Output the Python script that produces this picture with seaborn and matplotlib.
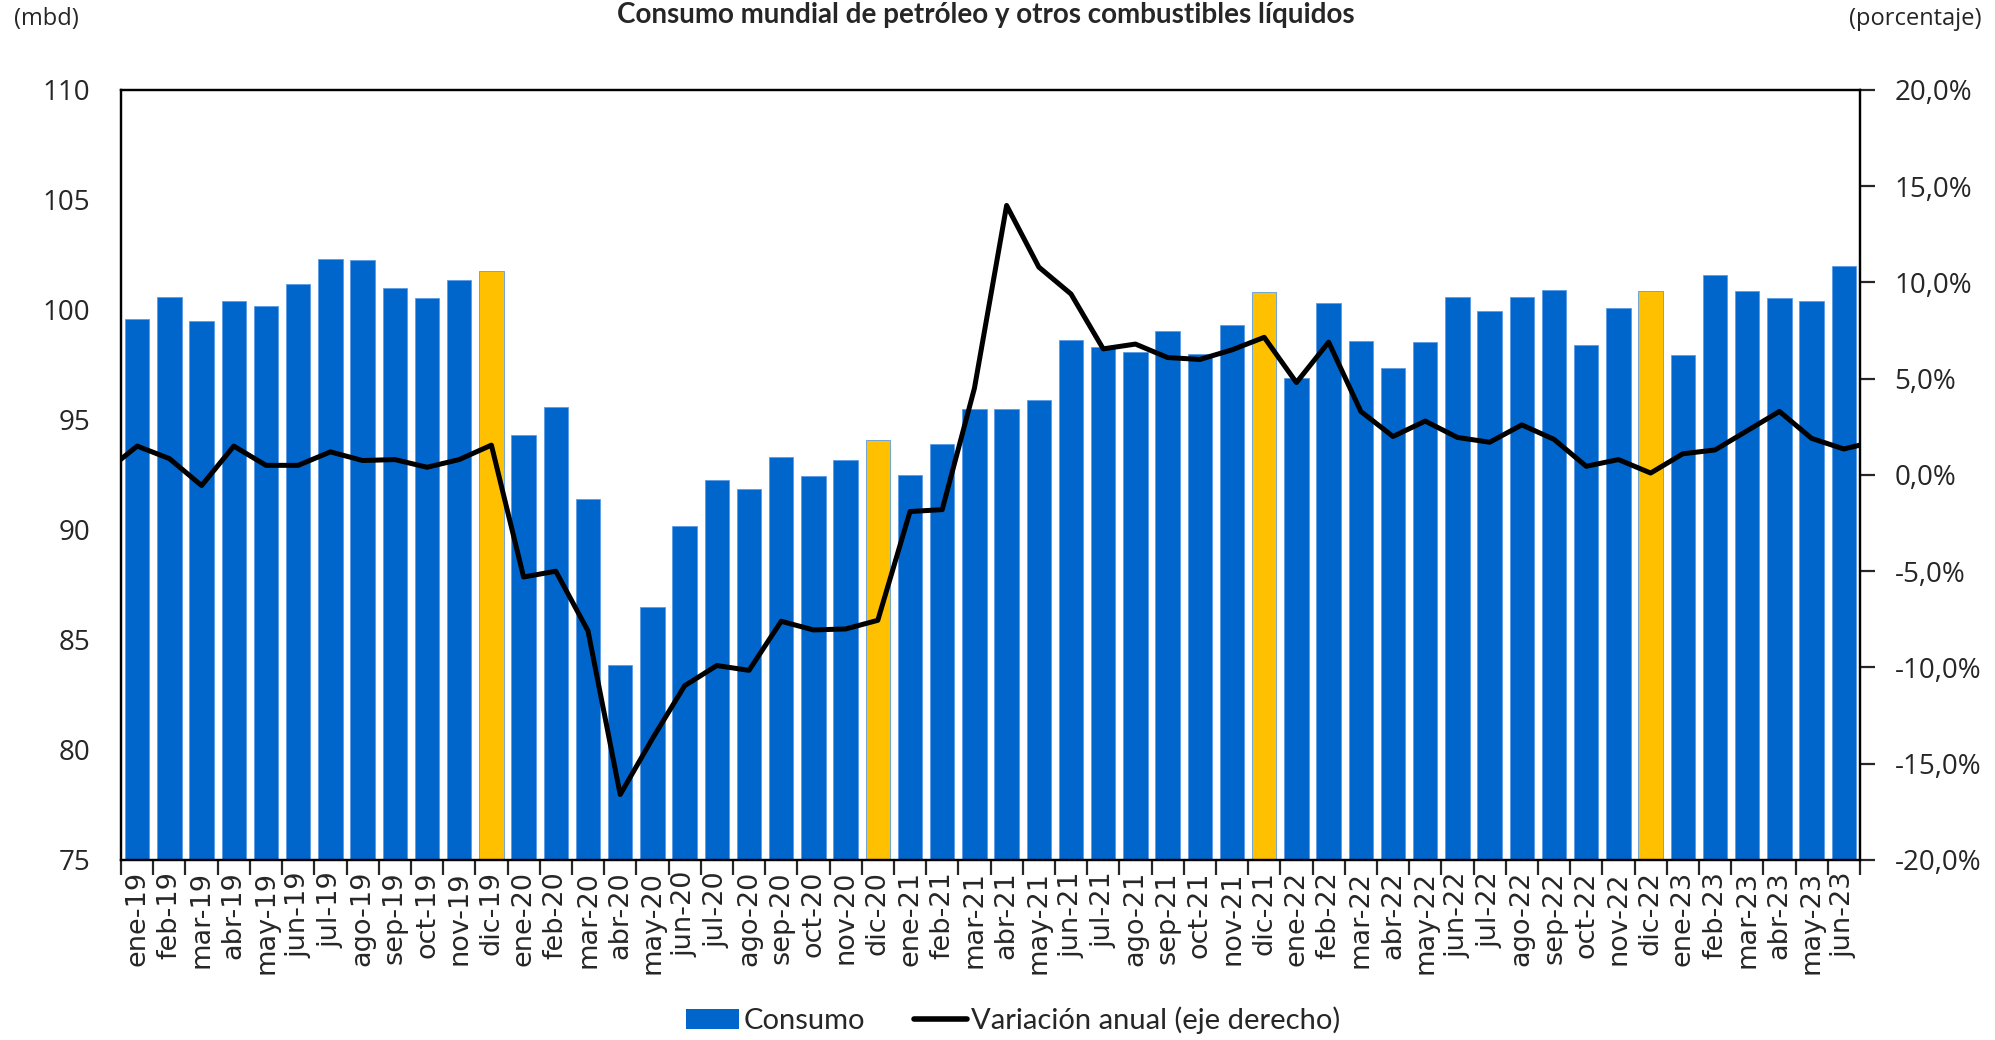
import numpy as np
import pandas as pd
import matplotlib
matplotlib.use("Agg")
import matplotlib.pyplot as plt
import seaborn as sns
from matplotlib.patches import Patch
from matplotlib.lines import Line2D
from matplotlib.ticker import FuncFormatter, FixedLocator

# Month labels (ene-19 .. jun-23)
meses = ['ene', 'feb', 'mar', 'abr', 'may', 'jun', 'jul', 'ago', 'sep', 'oct', 'nov', 'dic']
labels = [f"{m}-{y}" for y in ['19', '20', '21', '22'] for m in meses] + [f"{m}-23" for m in meses[:6]]

# World consumption (mbd)
consumo = [99.6, 100.6, 99.5, 100.4, 100.2, 101.2, 102.3, 102.25, 101.0, 100.55, 101.35, 101.75,
           94.3, 95.6, 91.4, 83.85, 86.5, 90.2, 92.25, 91.85, 93.3, 92.45, 93.2, 94.1,
           92.5, 93.9, 95.5, 95.5, 95.9, 98.65, 98.3, 98.1, 99.05, 98.0, 99.3, 100.8,
           96.9, 100.3, 98.6, 97.35, 98.55, 100.6, 99.95, 100.6, 100.9, 98.4, 100.1, 100.85,
           97.95, 101.6, 100.85, 100.55, 100.4, 102.0]

# Annual change (%), right axis
variacion = [1.5, 0.85, -0.55, 1.5, 0.5, 0.5, 1.2, 0.75, 0.8, 0.4, 0.8, 1.55,
             -5.3, -5.0, -8.1, -16.6, -13.7, -10.95, -9.9, -10.15, -7.6, -8.05, -8.0, -7.55,
             -1.9, -1.8, 4.5, 14.0, 10.8, 9.4, 6.55, 6.8, 6.1, 6.0, 6.5, 7.15,
             4.8, 6.9, 3.3, 2.0, 2.8, 1.95, 1.7, 2.6, 1.85, 0.45, 0.8, 0.1,
             1.1, 1.3, 2.3, 3.3, 1.9, 1.35]
# neighbouring months, only visible as the clipped ends of the line
variacion_prev = 0.15   # dic-18
variacion_next = 1.75   # jul-23

AZUL = '#0066CC'
AMARILLO = '#FFC000'

df = pd.DataFrame({'mes': labels, 'consumo': consumo, 'variacion': variacion})
df['color'] = np.where(df['mes'].str.startswith('dic'), 'dic', 'otro')

sns.set_style('white')
plt.rcParams['font.family'] = ['Open Sans', 'DejaVu Sans']

fig = plt.figure(figsize=(19.95, 10.4), dpi=100)
ax = fig.add_axes([0.0607, 0.1731, 0.8716, 0.7404])

sns.barplot(data=df, x='mes', y='consumo', hue='color', palette={'dic': AMARILLO, 'otro': AZUL},
            dodge=False, width=0.76, legend=False, ax=ax, edgecolor='#5a9be6', linewidth=0.6,
            saturation=1)
ax.set_ylim(75, 110)
ax.set_yticks(np.arange(75, 111, 5))
ax.set_xlim(-0.5, len(labels) - 0.5)
ax.set_xlabel('')
ax.set_ylabel('')

ax2 = ax.twinx()
xs = np.arange(-1, len(labels) + 1)
ys = [variacion_prev] + variacion + [variacion_next]
sns.lineplot(x=xs, y=ys, color='black', linewidth=3.6, ax=ax2, legend=False)
ax2.set_ylim(-20, 20)
ax2.set_yticks(np.arange(-20, 21, 5))
ax2.yaxis.set_major_formatter(FuncFormatter(lambda v, p: f"{v:.1f}%".replace('.', ',')))
ax2.set_xlim(-0.5, len(labels) - 0.5)
ax2.set_ylabel('')

for a in (ax, ax2):
    for s in a.spines.values():
        s.set_color('black')
        s.set_linewidth(1.6)

# ticks
ax.tick_params(axis='y', which='both', length=0, pad=22, labelsize=20)
ax2.tick_params(axis='y', which='major', length=11, width=1.6, direction='out', pad=14, labelsize=20)
ax.set_xticks(np.arange(len(labels)))
ax.set_xticklabels(labels, rotation=90, fontsize=19.5, family='DejaVu Sans')
ax.tick_params(axis='x', which='major', length=0, pad=8)
ax.xaxis.set_minor_locator(FixedLocator(np.arange(-0.5, len(labels), 1)))
ax.tick_params(axis='x', which='minor', length=11, width=1.6, direction='out', bottom=True)
ax2.tick_params(axis='x', which='both', length=0)

fig.text(0.494, 0.998, 'Consumo mundial de petróleo y otros combustibles líquidos',
         ha='center', va='top', fontsize=20, fontweight='bold', family=['Lato', 'DejaVu Sans'])
fig.text(0.007, 0.982, '(mbd)', ha='left', va='center', fontsize=17)
fig.text(0.993, 0.982, '(porcentaje)', ha='right', va='center', fontsize=17)

handles = [Patch(facecolor=AZUL, edgecolor='none'),
           Line2D([0], [0], color='black', linewidth=4)]
fig.legend(handles, ['Consumo', 'Variación anual (eje derecho)'], loc='center',
           bbox_to_anchor=(0.508, 0.019), ncol=2, frameon=False,
           prop={'family': ['Lato', 'DejaVu Sans'], 'size': 21},
           handlelength=1.8, handletextpad=0.15, columnspacing=1.7)

fig.savefig('out.png', dpi=100)
